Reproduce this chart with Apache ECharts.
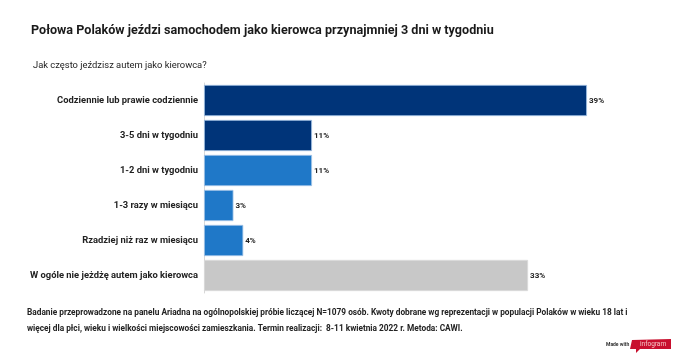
<!DOCTYPE html>
<html><head><meta charset="utf-8">
<script src="https://cdn.jsdelivr.net/npm/echarts@6/dist/echarts.min.js"></script>
<style>html,body{margin:0;padding:0;background:#fff}#c{width:680px;height:359px}</style>
</head><body><div id="c"></div>
<script>
const categories = ["Codziennie lub prawie codziennie","3-5 dni w tygodniu","1-2 dni w tygodniu","1-3 razy w miesiącu","Rzadziej niż raz w miesiącu","W ogóle nie jeżdżę autem jako kierowca"];
const values = [39, 11, 11, 3, 4, 33];
const barColors = ["#003479","#003479","#1f78c8","#1f78c8","#1f78c8","#c8c8c8"];
const F = "Roboto, 'Liberation Sans', sans-serif";
const chart = echarts.init(document.getElementById('c'));
chart.setOption({
  animation:false,
  textStyle:{fontFamily:F},
  title:[
    {text:"Połowa Polaków jeździ samochodem jako kierowca przynajmniej 3 dni w tygodniu",left:26,top:19,textStyle:{fontFamily:F,fontSize:12.6,fontWeight:'bold',color:'#1a1a1a'}},
    {text:"Jak często jeździsz autem jako kierowca?",left:28,top:56,textStyle:{fontFamily:F,fontSize:9.4,fontWeight:'normal',color:'#222'}}
  ],
  grid:{left:204,top:83,height:210,width:383},
  xAxis:{type:'value',min:0,max:39,show:false},
  yAxis:{type:'category',data:categories,inverse:true,
    axisLine:{show:true,lineStyle:{color:'#d8d8d8',width:1}},axisTick:{show:false},
    axisLabel:{fontFamily:F,fontSize:9.4,fontWeight:'bold',color:'#222',margin:6}},
  series:[{type:'bar',barCategoryGap:'11%',
    data:values.map((v,i)=>({value:v,itemStyle:{color:barColors[i],borderColor:i<5?'#a8c8ea':'#dcdcdc',borderWidth:0.8}})),
    label:{show:true,position:'right',distance:2,formatter:'{c}%',fontFamily:F,fontSize:8,fontWeight:'bold',color:'#222'}}],
  graphic:[
    {type:'text',left:27,top:305,style:{text:"Badanie przeprowadzone na panelu Ariadna na ogólnopolskiej próbie liczącej N=1079 osób. Kwoty dobrane wg reprezentacji w populacji Polaków w wieku 18 lat i\nwięcej dla płci, wieku i wielkości miejscowości zamieszkania. Termin realizacji:  8-11 kwietnia 2022 r. Metoda: CAWI.",font:"bold 8.3px "+F,fill:'#222',lineHeight:16}},
    {type:'text',left:606,top:342,style:{text:"Made with",font:"bold 5px "+F,fill:'#333'}},
    {type:'polygon',shape:{points:[[632,340],[671,339],[671,349],[640,349],[636,353],[636,349],[630,349]]},style:{fill:'#c8102e'}},
    {type:'text',left:640,top:340.5,style:{text:"infogram",font:"6.5px "+F,fill:'#f6c7c7'}}
  ]
});
</script></body></html>
